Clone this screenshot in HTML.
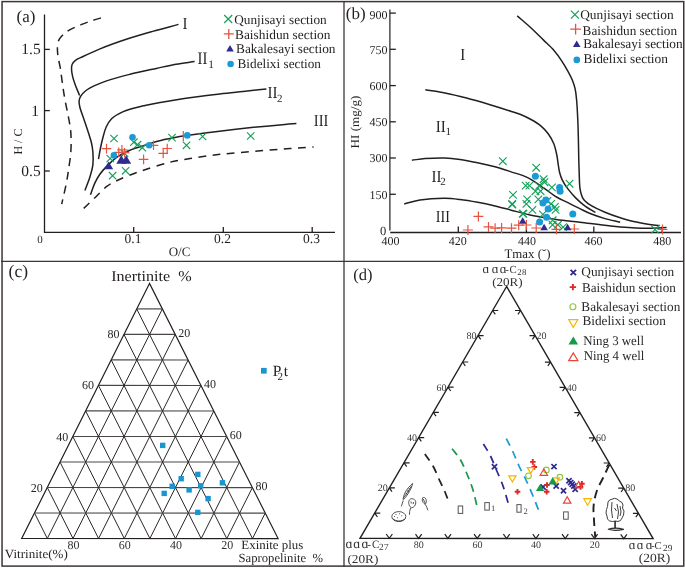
<!DOCTYPE html>
<html><head><meta charset="utf-8"><style>
html,body{margin:0;padding:0;background:#fff;}
svg{display:block;will-change:transform;}
text{font-family:"Liberation Serif",serif;text-rendering:geometricPrecision;-webkit-font-smoothing:antialiased;}
</style></head><body>
<svg width="685" height="568" viewBox="0 0 685 568">
<rect width="685" height="568" fill="#fff"/>
<rect x="2.05" y="1.6" width="681.7" height="564.5" fill="none" stroke="#3d3536" stroke-width="1.5"/>
<line x1="344" y1="1" x2="344" y2="567" stroke="#3d3536" stroke-width="1.3" />
<line x1="1" y1="261.3" x2="684" y2="261.3" stroke="#3d3536" stroke-width="1.3" />
<text x="16.6" y="22.0" font-family="Liberation Serif" font-size="17" text-anchor="start" fill="#231f20" >(a)</text>
<line x1="44.5" y1="14.5" x2="44.5" y2="233.05" stroke="#231f20" stroke-width="1.3" />
<line x1="44.5" y1="232.4" x2="335" y2="232.4" stroke="#231f20" stroke-width="1.3" />
<line x1="44.5" y1="49.4" x2="49.8" y2="49.4" stroke="#231f20" stroke-width="1.3" />
<line x1="44.5" y1="110.6" x2="49.8" y2="110.6" stroke="#231f20" stroke-width="1.3" />
<line x1="44.5" y1="171.0" x2="49.8" y2="171.0" stroke="#231f20" stroke-width="1.3" />
<line x1="133.7" y1="227" x2="133.7" y2="232.4" stroke="#231f20" stroke-width="1.3" />
<line x1="223.3" y1="227" x2="223.3" y2="232.4" stroke="#231f20" stroke-width="1.3" />
<line x1="312.2" y1="227" x2="312.2" y2="232.4" stroke="#231f20" stroke-width="1.3" />
<text x="40.7" y="54.4" font-family="Liberation Serif" font-size="15.5" text-anchor="end" fill="#231f20" >1.5</text>
<text x="39.0" y="115.6" font-family="Liberation Serif" font-size="15.5" text-anchor="end" fill="#231f20" >1</text>
<text x="40.7" y="176" font-family="Liberation Serif" font-size="15.5" text-anchor="end" fill="#231f20" >0.5</text>
<text x="40" y="242.8" font-family="Liberation Serif" font-size="11" text-anchor="middle" fill="#231f20" >0</text>
<text x="133" y="243.2" font-family="Liberation Serif" font-size="13.5" text-anchor="middle" fill="#231f20" >0.1</text>
<text x="222.5" y="243.2" font-family="Liberation Serif" font-size="13.5" text-anchor="middle" fill="#231f20" >0.2</text>
<text x="311.5" y="243.2" font-family="Liberation Serif" font-size="13.5" text-anchor="middle" fill="#231f20" >0.3</text>
<text x="179.5" y="255.6" font-family="Liberation Serif" font-size="13" text-anchor="middle" fill="#231f20" >O/C</text>
<text x="0" y="0" font-family="Liberation Serif" font-size="12" text-anchor="middle" fill="#231f20" transform="translate(22,141.6) rotate(-90)">H / C</text>
<path d="M178.5,24.4 C169.87,26.73 161.25,28.93 152.60,31.40 C143.85,33.90 135.02,36.40 126.30,39.30 C117.49,42.23 107.82,45.71 100.00,48.90 C93.52,51.54 87.00,54.66 82.50,56.80 C79.62,58.17 77.30,58.89 75.50,60.30 C74.05,61.44 72.86,62.77 72.20,64.20 C71.59,65.52 71.52,66.83 71.50,68.50 C71.48,70.83 72.05,74.12 72.70,76.90 C73.37,79.75 74.42,82.46 75.50,85.40 C76.69,88.64 78.23,92.13 79.60,95.50" fill="none" stroke="#231f20" stroke-width="1.5" stroke-linecap="butt"/>
<path d="M194.6,61.6 C188.40,62.47 182.27,63.09 176.00,64.20 C169.51,65.34 163.34,66.86 156.30,68.40 C148.16,70.18 138.09,72.29 130.00,74.30 C122.99,76.04 116.56,77.63 110.50,79.60 C105.05,81.37 99.66,83.30 95.20,85.40 C91.49,87.15 87.96,88.92 85.40,91.00 C83.35,92.66 81.66,94.58 80.60,96.40 C79.75,97.86 79.28,99.22 79.10,100.80 C78.90,102.56 79.22,104.26 79.70,106.50 C80.44,109.93 82.47,114.88 83.90,119.20 C85.40,123.71 87.16,128.76 88.50,133.00 C89.64,136.59 90.76,139.70 91.50,143.00 C92.20,146.13 92.65,148.97 92.90,152.30 C93.18,156.10 93.39,160.52 92.90,164.60 C92.40,168.75 91.18,172.82 89.90,177.00 C88.54,181.44 86.57,186.00 84.90,190.50" fill="none" stroke="#231f20" stroke-width="1.5" stroke-linecap="butt"/>
<path d="M266.4,88.9 C258.60,89.73 250.78,90.56 243.00,91.40 C235.25,92.23 228.65,92.84 219.80,93.90 C207.94,95.32 191.27,97.34 178.20,99.40 C166.46,101.25 154.83,103.17 144.90,105.50 C136.70,107.43 128.68,109.24 122.70,111.90 C118.20,113.90 114.44,116.02 111.60,118.80 C109.11,121.23 107.55,124.11 106.10,127.20 C104.57,130.48 103.75,134.45 102.80,138.00 C101.90,141.38 101.20,144.57 100.50,148.00 C99.76,151.59 99.17,155.40 98.50,159.10" fill="none" stroke="#231f20" stroke-width="1.5" stroke-linecap="butt"/>
<path d="M296.4,123.6 C292.60,123.87 290.16,123.97 285.00,124.40 C274.04,125.32 250.43,127.50 233.70,129.40 C217.62,131.22 199.28,133.50 186.50,135.50 C177.70,136.88 171.41,137.92 164.30,139.60 C157.57,141.19 150.99,143.29 144.90,145.20 C139.40,146.93 134.11,148.39 129.30,150.50 C124.87,152.44 120.75,154.58 117.00,157.20 C113.37,159.74 110.07,162.90 107.10,165.90 C104.35,168.68 101.80,171.53 99.70,174.50 C97.74,177.28 96.27,179.95 94.80,183.10 C93.16,186.64 91.93,190.90 90.50,194.80" fill="none" stroke="#231f20" stroke-width="1.5" stroke-linecap="butt"/>
<path d="M101.0,17.9 C97.67,18.93 94.26,19.90 91.00,21.00 C87.83,22.07 85.09,22.98 81.70,24.40 C77.45,26.18 71.07,28.88 67.60,31.10 C65.29,32.57 63.77,34.01 62.30,35.50 C61.06,36.75 59.96,37.94 59.20,39.30 C58.49,40.58 58.10,41.99 57.80,43.40 C57.50,44.82 57.42,46.11 57.40,47.80 C57.37,50.07 57.52,52.87 57.90,55.80 C58.37,59.45 59.57,63.65 60.30,68.00 C61.13,72.96 61.72,78.67 62.50,84.00 C63.28,89.34 64.04,94.65 65.00,100.00 C65.97,105.42 67.34,111.09 68.30,116.30 C69.18,121.06 70.14,125.78 70.60,130.00 C70.99,133.58 71.05,136.49 71.10,140.00 C71.15,143.91 71.13,148.04 70.80,152.40 C70.43,157.31 69.53,162.91 68.80,168.00 C68.09,172.90 67.50,177.13 66.50,182.40 C65.26,188.91 63.30,196.87 61.70,204.10" fill="none" stroke="#231f20" stroke-width="1.5" stroke-linecap="butt" stroke-dasharray="8 6"/>
<path d="M83.7,208.4 C87.80,204.50 92.00,200.49 96.00,196.70 C99.79,193.10 103.21,189.05 107.10,186.20 C110.65,183.60 113.80,182.09 118.20,180.00 C124.17,177.17 132.10,174.17 140.00,171.40 C149.15,168.20 160.95,164.42 170.00,162.20 C177.28,160.42 183.50,159.59 190.00,158.50 C196.15,157.47 202.60,156.54 208.00,155.80 C212.40,155.20 215.49,154.78 220.00,154.30 C225.82,153.68 232.66,153.14 240.00,152.50 C248.99,151.72 261.01,150.69 270.00,150.00 C277.34,149.44 283.06,149.08 290.00,148.60 C297.54,148.08 305.73,147.53 313.60,147.00" fill="none" stroke="#231f20" stroke-width="1.5" stroke-linecap="butt" stroke-dasharray="7.8 6.5"/>
<text x="182.5" y="28.5" font-family="Liberation Serif" font-size="17" text-anchor="start" fill="#231f20" textLength="5" lengthAdjust="spacingAndGlyphs" >I</text>
<text x="197.6" y="64.2" font-family="Liberation Serif" font-size="17.5" text-anchor="start" fill="#231f20" textLength="9.8" lengthAdjust="spacingAndGlyphs" >II</text>
<text x="208.2" y="67.7" font-family="Liberation Serif" font-size="11.5" text-anchor="start" fill="#231f20" >1</text>
<text x="267.5" y="97.8" font-family="Liberation Serif" font-size="17" text-anchor="start" fill="#231f20" textLength="10" lengthAdjust="spacingAndGlyphs" >II</text>
<text x="277" y="101.5" font-family="Liberation Serif" font-size="11" text-anchor="start" fill="#231f20" >2</text>
<text x="313.8" y="126.1" font-family="Liberation Serif" font-size="17" text-anchor="start" fill="#231f20" textLength="14.5" lengthAdjust="spacingAndGlyphs" >III</text>
<path d="M224.2,15.0L232.2,23.0M224.2,23.0L232.2,15.0" stroke="#12a058" stroke-width="1.2" fill="none"/>
<text x="234.2" y="23.8" font-family="Liberation Serif" font-size="13.2" text-anchor="start" fill="#231f20" textLength="92.5" lengthAdjust="spacingAndGlyphs" >Qunjisayi section</text>
<path d="M223.8,33.9H233.8M228.8,28.9V38.9" stroke="#e4543f" stroke-width="1.3" fill="none"/>
<text x="235" y="38.7" font-family="Liberation Serif" font-size="13.2" text-anchor="start" fill="#231f20" textLength="95.5" lengthAdjust="spacingAndGlyphs" >Baishidun section</text>
<polygon points="230.0,44.9 226.2,51.4 233.8,51.4" fill="#2f2b8f"/>
<text x="236" y="53.4" font-family="Liberation Serif" font-size="13.2" text-anchor="start" fill="#231f20" textLength="99.5" lengthAdjust="spacingAndGlyphs" >Bakalesayi section</text>
<circle cx="230.6" cy="64" r="3.3" fill="#1a9ad6"/>
<text x="237.5" y="68.2" font-family="Liberation Serif" font-size="13.2" text-anchor="start" fill="#231f20" textLength="83.5" lengthAdjust="spacingAndGlyphs" >Bidelixi section</text>
<path d="M110.3,134.8L117.7,142.2M110.3,142.2L117.7,134.8" stroke="#12a058" stroke-width="1.1" fill="none"/>
<path d="M130.1,138.5L137.5,145.9M130.1,145.9L137.5,138.5" stroke="#12a058" stroke-width="1.1" fill="none"/>
<path d="M133.8,141.0L141.2,148.4M133.8,148.4L141.2,141.0" stroke="#12a058" stroke-width="1.1" fill="none"/>
<path d="M138.7,144.0L146.1,151.4M138.7,151.4L146.1,144.0" stroke="#12a058" stroke-width="1.1" fill="none"/>
<path d="M120.8,149.6L128.2,157.0M120.8,157.0L128.2,149.6" stroke="#12a058" stroke-width="1.1" fill="none"/>
<path d="M106.5,154.8L113.9,162.2M106.5,162.2L113.9,154.8" stroke="#12a058" stroke-width="1.1" fill="none"/>
<path d="M121.9,167.1L129.3,174.5M121.9,174.5L129.3,167.1" stroke="#12a058" stroke-width="1.1" fill="none"/>
<path d="M108.9,172.0L116.3,179.4M108.9,179.4L116.3,172.0" stroke="#12a058" stroke-width="1.1" fill="none"/>
<path d="M168.3,133.9L175.7,141.3M168.3,141.3L175.7,133.9" stroke="#12a058" stroke-width="1.1" fill="none"/>
<path d="M182.8,141.6L190.2,149.0M182.8,149.0L190.2,141.6" stroke="#12a058" stroke-width="1.1" fill="none"/>
<path d="M198.9,132.8L206.3,140.2M198.9,140.2L206.3,132.8" stroke="#12a058" stroke-width="1.1" fill="none"/>
<path d="M247.0,132.3L254.4,139.7M247.0,139.7L254.4,132.3" stroke="#12a058" stroke-width="1.1" fill="none"/>
<path d="M101.7,148.6H111.3M106.5,143.8V153.4" stroke="#e4543f" stroke-width="1.2" fill="none"/>
<path d="M114.0,152.3H123.6M118.8,147.5V157.1" stroke="#e4543f" stroke-width="1.2" fill="none"/>
<path d="M117.1,149.9H126.7M121.9,145.1V154.7" stroke="#e4543f" stroke-width="1.2" fill="none"/>
<path d="M119.7,152.7H129.3M124.5,147.9V157.5" stroke="#e4543f" stroke-width="1.2" fill="none"/>
<path d="M148.7,145.3H158.3M153.5,140.5V150.1" stroke="#e4543f" stroke-width="1.2" fill="none"/>
<path d="M138.8,159.4H148.4M143.6,154.6V164.2" stroke="#e4543f" stroke-width="1.2" fill="none"/>
<path d="M158.4,153.4H168.0M163.2,148.6V158.2" stroke="#e4543f" stroke-width="1.2" fill="none"/>
<path d="M162.4,148.5H172.0M167.2,143.7V153.3" stroke="#e4543f" stroke-width="1.2" fill="none"/>
<line x1="183.3" y1="130.9" x2="183.3" y2="141.3" stroke="#e4543f" stroke-width="1.2" />
<circle cx="132.5" cy="137.3" r="3.3" fill="#1a9ad6"/>
<circle cx="113.9" cy="155.4" r="3.3" fill="#1a9ad6"/>
<circle cx="149.2" cy="145.3" r="3.3" fill="#1a9ad6"/>
<circle cx="187.3" cy="135.4" r="3.3" fill="#1a9ad6"/>
<polygon points="108.6,161.5 104.0,169.3 113.2,169.3" fill="#2f2b8f"/>
<polygon points="121.3,155.2 116.3,163.7 126.3,163.7" fill="#2f2b8f"/>
<polygon points="126.2,155.2 121.2,163.7 131.2,163.7" fill="#2f2b8f"/>
<text x="345.8" y="18.7" font-family="Liberation Serif" font-size="17" text-anchor="start" fill="#231f20" >(b)</text>
<line x1="389.9" y1="9.5" x2="389.9" y2="230.6" stroke="#231f20" stroke-width="1.2" />
<line x1="390.2" y1="232.5" x2="681" y2="232.5" stroke="#231f20" stroke-width="1.3" />
<line x1="390" y1="13.1" x2="395.8" y2="13.1" stroke="#231f20" stroke-width="1.3" />
<text x="387.5" y="19.0" font-family="Liberation Serif" font-size="12" text-anchor="end" fill="#231f20" >900</text>
<line x1="390" y1="49.3" x2="395.8" y2="49.3" stroke="#231f20" stroke-width="1.3" />
<text x="387.5" y="53.599999999999994" font-family="Liberation Serif" font-size="12" text-anchor="end" fill="#231f20" >750</text>
<line x1="390" y1="85.6" x2="395.8" y2="85.6" stroke="#231f20" stroke-width="1.3" />
<text x="387.5" y="89.89999999999999" font-family="Liberation Serif" font-size="12" text-anchor="end" fill="#231f20" >600</text>
<line x1="390" y1="121.8" x2="395.8" y2="121.8" stroke="#231f20" stroke-width="1.3" />
<text x="387.5" y="126.1" font-family="Liberation Serif" font-size="12" text-anchor="end" fill="#231f20" >450</text>
<line x1="390" y1="158.0" x2="395.8" y2="158.0" stroke="#231f20" stroke-width="1.3" />
<text x="387.5" y="162.3" font-family="Liberation Serif" font-size="12" text-anchor="end" fill="#231f20" >300</text>
<line x1="390" y1="194.3" x2="395.8" y2="194.3" stroke="#231f20" stroke-width="1.3" />
<text x="387.5" y="198.60000000000002" font-family="Liberation Serif" font-size="12" text-anchor="end" fill="#231f20" >150</text>
<text x="386.2" y="234.9" font-family="Liberation Serif" font-size="12.5" text-anchor="end" fill="#231f20" >0</text>
<line x1="458.3" y1="226.5" x2="458.3" y2="232.5" stroke="#231f20" stroke-width="1.3" />
<line x1="526.4" y1="226.5" x2="526.4" y2="232.5" stroke="#231f20" stroke-width="1.3" />
<line x1="593.8" y1="226.5" x2="593.8" y2="232.5" stroke="#231f20" stroke-width="1.3" />
<line x1="662.2" y1="226.5" x2="662.2" y2="232.5" stroke="#231f20" stroke-width="1.3" />
<text x="390.6" y="245" font-family="Liberation Serif" font-size="12" text-anchor="middle" fill="#231f20" >400</text>
<text x="457.8" y="245" font-family="Liberation Serif" font-size="12" text-anchor="middle" fill="#231f20" >420</text>
<text x="527" y="245" font-family="Liberation Serif" font-size="12" text-anchor="middle" fill="#231f20" >440</text>
<text x="593.6" y="245" font-family="Liberation Serif" font-size="12" text-anchor="middle" fill="#231f20" >460</text>
<text x="662.2" y="245" font-family="Liberation Serif" font-size="12" text-anchor="middle" fill="#231f20" >480</text>
<text x="527.5" y="257.9" font-family="Liberation Serif" font-size="13" text-anchor="middle" fill="#231f20" textLength="46" lengthAdjust="spacingAndGlyphs" >Tmax (˘)</text>
<text x="0" y="0" font-family="Liberation Serif" font-size="12" text-anchor="middle" fill="#231f20" transform="translate(359.3,122) rotate(-90)" textLength="53" lengthAdjust="spacingAndGlyphs">HI (mg/g)</text>
<path d="M517.2,15.9 C521.47,19.60 525.75,23.10 530.00,27.00 C534.45,31.08 539.12,35.80 543.30,39.90 C547.07,43.60 550.82,46.82 554.00,50.50 C557.01,53.97 559.60,57.68 562.00,61.30 C564.27,64.72 566.29,68.26 568.10,71.60 C569.75,74.64 571.30,77.50 572.50,80.50 C573.65,83.37 574.53,86.11 575.20,89.20 C575.94,92.58 576.21,95.83 576.60,100.00 C577.14,105.68 577.50,113.50 577.80,120.20 C578.10,126.83 578.23,133.33 578.40,140.00 C578.57,146.80 578.64,154.61 578.80,160.60 C578.92,165.23 579.03,168.60 579.20,172.90 C579.39,177.63 579.41,183.92 579.90,187.80 C580.22,190.33 580.65,192.17 581.20,194.00 C581.66,195.53 582.10,196.86 582.80,198.10 C583.48,199.29 584.35,200.35 585.30,201.30 C586.25,202.25 587.15,202.89 588.50,203.80 C590.53,205.17 593.76,207.00 596.50,208.40 C599.26,209.80 601.84,210.91 605.00,212.20 C608.85,213.77 613.44,215.49 618.00,217.00 C622.94,218.64 628.47,220.38 633.60,221.60 C638.46,222.75 643.44,223.52 648.00,224.20 C652.09,224.81 655.80,225.13 659.70,225.60" fill="none" stroke="#231f20" stroke-width="1.5" stroke-linecap="butt"/>
<path d="M425.3,89.8 C431.87,90.87 438.31,91.67 445.00,93.00 C452.06,94.40 459.28,96.19 466.60,98.10 C474.27,100.10 482.52,102.57 490.00,104.80 C496.94,106.87 504.48,109.23 510.00,111.00 C513.91,112.25 516.63,112.95 520.00,114.30 C523.62,115.75 527.48,117.53 531.00,119.50 C534.51,121.46 538.16,123.61 541.10,126.10 C543.84,128.42 546.12,130.94 548.20,133.80 C550.37,136.78 552.37,140.19 553.80,143.70 C555.25,147.25 556.04,151.33 556.80,155.00 C557.51,158.42 557.80,161.91 558.30,165.00 C558.73,167.68 558.95,170.04 559.60,172.50 C560.25,174.98 560.99,177.30 562.20,179.80 C563.62,182.74 565.71,185.94 567.90,188.90 C570.24,192.05 573.03,195.23 575.90,198.10 C578.77,200.97 581.84,203.71 585.10,206.10 C588.34,208.48 591.97,210.30 595.40,212.40" fill="none" stroke="#231f20" stroke-width="1.5" stroke-linecap="butt"/>
<path d="M411.9,160.2 C416.27,159.67 420.18,158.97 425.00,158.60 C430.89,158.15 438.55,157.79 444.70,158.00 C450.13,158.18 454.74,158.75 460.00,159.50 C465.68,160.31 471.76,161.58 477.60,162.80 C483.43,164.02 489.40,165.29 495.00,166.80 C500.32,168.24 505.10,169.85 510.40,171.60 C516.13,173.49 523.01,175.25 528.20,177.80 C532.69,180.01 536.91,183.44 540.00,185.50 C542.03,186.85 543.00,187.51 545.00,188.90 C548.05,191.01 552.59,194.66 556.50,197.00 C560.23,199.23 564.09,200.80 567.90,202.70 C571.72,204.60 575.57,206.54 579.40,208.40 C583.20,210.24 586.74,212.16 590.80,213.80 C595.23,215.59 600.15,217.21 605.00,218.60 C609.95,220.02 615.13,221.00 620.20,222.20" fill="none" stroke="#231f20" stroke-width="1.5" stroke-linecap="butt"/>
<path d="M404.2,204.0 C409.47,202.67 414.10,200.94 420.00,200.00 C427.27,198.84 437.45,198.27 444.70,198.30 C450.41,198.33 454.73,198.88 460.00,199.50 C465.67,200.17 471.76,201.22 477.60,202.30 C483.43,203.38 489.39,204.69 495.00,206.00 C500.30,207.23 504.96,208.50 510.40,209.90 C516.54,211.48 522.95,213.50 530.00,215.00 C538.09,216.73 547.75,218.18 556.30,219.40 C564.39,220.55 571.59,221.18 580.00,222.20 C589.57,223.36 600.46,224.98 610.70,226.00 C620.90,227.01 631.58,228.07 641.30,228.30 C650.13,228.51 658.17,227.83 666.60,227.60" fill="none" stroke="#231f20" stroke-width="1.5" stroke-linecap="butt"/>
<text x="460.3" y="59.8" font-family="Liberation Serif" font-size="17" text-anchor="start" fill="#231f20" textLength="5" lengthAdjust="spacingAndGlyphs" >I</text>
<text x="435.8" y="131.8" font-family="Liberation Serif" font-size="17" text-anchor="start" fill="#231f20" textLength="10" lengthAdjust="spacingAndGlyphs" >II</text>
<text x="445.5" y="135" font-family="Liberation Serif" font-size="11" text-anchor="start" fill="#231f20" >1</text>
<text x="431.4" y="181.5" font-family="Liberation Serif" font-size="17" text-anchor="start" fill="#231f20" textLength="10" lengthAdjust="spacingAndGlyphs" >II</text>
<text x="440.3" y="184.7" font-family="Liberation Serif" font-size="11" text-anchor="start" fill="#231f20" >2</text>
<text x="435.8" y="222" font-family="Liberation Serif" font-size="17" text-anchor="start" fill="#231f20" textLength="14" lengthAdjust="spacingAndGlyphs" >III</text>
<path d="M570.9,10.6L578.9,18.6M570.9,18.6L578.9,10.6" stroke="#12a058" stroke-width="1.2" fill="none"/>
<text x="580.2" y="18.8" font-family="Liberation Serif" font-size="13.2" text-anchor="start" fill="#231f20" textLength="93.5" lengthAdjust="spacingAndGlyphs" >Qunjisayi section</text>
<path d="M570.2,29.2H581.0M575.6,23.8V34.6" stroke="#e4543f" stroke-width="1.3" fill="none"/>
<text x="582.6" y="34.7" font-family="Liberation Serif" font-size="13.2" text-anchor="start" fill="#231f20" textLength="94.5" lengthAdjust="spacingAndGlyphs" >Baishidun section</text>
<polygon points="576.7,40.5 572.9,47.0 580.5,47.0" fill="#2f2b8f"/>
<text x="583.2" y="48.4" font-family="Liberation Serif" font-size="13.2" text-anchor="start" fill="#231f20" textLength="99.5" lengthAdjust="spacingAndGlyphs" >Bakalesayi section</text>
<circle cx="576.8" cy="59.9" r="3.3" fill="#1a9ad6"/>
<text x="583.5" y="63.3" font-family="Liberation Serif" font-size="13.2" text-anchor="start" fill="#231f20" textLength="84.5" lengthAdjust="spacingAndGlyphs" >Bidelixi section</text>
<path d="M499.0,157.4L506.6,165.0M499.0,165.0L506.6,157.4" stroke="#12a058" stroke-width="1.1" fill="none"/>
<path d="M532.4,163.9L540.0,171.5M532.4,171.5L540.0,163.9" stroke="#12a058" stroke-width="1.1" fill="none"/>
<path d="M521.9,181.8L529.5,189.4M521.9,189.4L529.5,181.8" stroke="#12a058" stroke-width="1.1" fill="none"/>
<path d="M525.6,181.8L533.2,189.4M525.6,189.4L533.2,181.8" stroke="#12a058" stroke-width="1.1" fill="none"/>
<path d="M539.8,175.4L547.4,183.0M539.8,183.0L547.4,175.4" stroke="#12a058" stroke-width="1.1" fill="none"/>
<path d="M540.6,178.4L548.2,186.0M540.6,186.0L548.2,178.4" stroke="#12a058" stroke-width="1.1" fill="none"/>
<path d="M535.3,182.1L542.9,189.7M535.3,189.7L542.9,182.1" stroke="#12a058" stroke-width="1.1" fill="none"/>
<path d="M548.1,183.6L555.7,191.2M548.1,191.2L555.7,183.6" stroke="#12a058" stroke-width="1.1" fill="none"/>
<path d="M565.7,179.9L573.3,187.5M565.7,187.5L573.3,179.9" stroke="#12a058" stroke-width="1.1" fill="none"/>
<path d="M531.6,187.4L539.2,195.0M531.6,195.0L539.2,187.4" stroke="#12a058" stroke-width="1.1" fill="none"/>
<path d="M536.8,187.4L544.4,195.0M536.8,195.0L544.4,187.4" stroke="#12a058" stroke-width="1.1" fill="none"/>
<path d="M509.2,191.1L516.8,198.7M509.2,198.7L516.8,191.1" stroke="#12a058" stroke-width="1.1" fill="none"/>
<path d="M508.4,200.1L516.0,207.7M508.4,207.7L516.0,200.1" stroke="#12a058" stroke-width="1.1" fill="none"/>
<path d="M523.4,195.6L531.0,203.2M523.4,203.2L531.0,195.6" stroke="#12a058" stroke-width="1.1" fill="none"/>
<path d="M522.6,200.1L530.2,207.7M522.6,207.7L530.2,200.1" stroke="#12a058" stroke-width="1.1" fill="none"/>
<path d="M534.6,195.6L542.2,203.2M534.6,203.2L542.2,195.6" stroke="#12a058" stroke-width="1.1" fill="none"/>
<path d="M543.6,197.1L551.2,204.7M543.6,204.7L551.2,197.1" stroke="#12a058" stroke-width="1.1" fill="none"/>
<path d="M528.6,206.1L536.2,213.7M528.6,213.7L536.2,206.1" stroke="#12a058" stroke-width="1.1" fill="none"/>
<path d="M547.3,200.1L554.9,207.7M547.3,207.7L554.9,200.1" stroke="#12a058" stroke-width="1.1" fill="none"/>
<path d="M551.1,203.1L558.7,210.7M551.1,210.7L558.7,203.1" stroke="#12a058" stroke-width="1.1" fill="none"/>
<path d="M551.8,206.1L559.4,213.7M551.8,213.7L559.4,206.1" stroke="#12a058" stroke-width="1.1" fill="none"/>
<path d="M518.9,209.8L526.5,217.4M518.9,217.4L526.5,209.8" stroke="#12a058" stroke-width="1.1" fill="none"/>
<path d="M539.1,210.6L546.7,218.2M539.1,218.2L546.7,210.6" stroke="#12a058" stroke-width="1.1" fill="none"/>
<path d="M548.8,216.5L556.4,224.1M548.8,224.1L556.4,216.5" stroke="#12a058" stroke-width="1.1" fill="none"/>
<path d="M548.8,221.0L556.4,228.6M548.8,228.6L556.4,221.0" stroke="#12a058" stroke-width="1.1" fill="none"/>
<path d="M554.1,221.0L561.7,228.6M554.1,228.6L561.7,221.0" stroke="#12a058" stroke-width="1.1" fill="none"/>
<path d="M559.3,223.3L566.9,230.9M559.3,230.9L566.9,223.3" stroke="#12a058" stroke-width="1.1" fill="none"/>
<path d="M508.4,200.8L516.0,208.4M508.4,208.4L516.0,200.8" stroke="#12a058" stroke-width="1.1" fill="none"/>
<path d="M519.5,210.0L527.1,217.6M519.5,217.6L527.1,210.0" stroke="#12a058" stroke-width="1.1" fill="none"/>
<path d="M651.2,225.7L658.8,233.3M651.2,233.3L658.8,225.7" stroke="#12a058" stroke-width="1.1" fill="none"/>
<path d="M473.4,216.4H483.4M478.4,211.4V221.4" stroke="#e4543f" stroke-width="1.2" fill="none"/>
<path d="M462.9,230.0H472.9M467.9,225.0V235.0" stroke="#e4543f" stroke-width="1.2" fill="none"/>
<path d="M483.5,226.9H493.5M488.5,221.9V231.9" stroke="#e4543f" stroke-width="1.2" fill="none"/>
<path d="M490.1,228.2H500.1M495.1,223.2V233.2" stroke="#e4543f" stroke-width="1.2" fill="none"/>
<path d="M496.6,227.9H506.6M501.6,222.9V232.9" stroke="#e4543f" stroke-width="1.2" fill="none"/>
<path d="M506.5,228.2H516.5M511.5,223.2V233.2" stroke="#e4543f" stroke-width="1.2" fill="none"/>
<path d="M513.7,225.2H523.7M518.7,220.2V230.2" stroke="#e4543f" stroke-width="1.2" fill="none"/>
<path d="M521.4,225.0H531.4M526.4,220.0V230.0" stroke="#e4543f" stroke-width="1.2" fill="none"/>
<path d="M531.2,228.0H541.2M536.2,223.0V233.0" stroke="#e4543f" stroke-width="1.2" fill="none"/>
<path d="M551.4,229.3H561.4M556.4,224.3V234.3" stroke="#e4543f" stroke-width="1.2" fill="none"/>
<path d="M569.3,229.0H579.3M574.3,224.0V234.0" stroke="#e4543f" stroke-width="1.2" fill="none"/>
<path d="M657.5,229.5H667.5M662.5,224.5V234.5" stroke="#e4543f" stroke-width="1.2" fill="none"/>
<circle cx="535.4" cy="176.2" r="3.5" fill="#1a9ad6"/>
<circle cx="559.6" cy="187.4" r="3.5" fill="#1a9ad6"/>
<circle cx="560.1" cy="191.2" r="3.5" fill="#1a9ad6"/>
<circle cx="545.9" cy="200.1" r="3.5" fill="#1a9ad6"/>
<circle cx="542.9" cy="203.1" r="3.5" fill="#1a9ad6"/>
<circle cx="548.1" cy="209.1" r="3.5" fill="#1a9ad6"/>
<circle cx="546.6" cy="217.3" r="3.5" fill="#1a9ad6"/>
<circle cx="539.6" cy="222.1" r="3.5" fill="#1a9ad6"/>
<circle cx="572.8" cy="214" r="3.5" fill="#1a9ad6"/>
<polygon points="522.7,217.3 518.9,223.8 526.5,223.8" fill="#2f2b8f"/>
<polygon points="544.1,223.7 540.3,230.2 547.9,230.2" fill="#2f2b8f"/>
<polygon points="567.6,223.7 563.8,230.2 571.4,230.2" fill="#2f2b8f"/>
<text x="8.6" y="277.0" font-family="Liberation Serif" font-size="17.5" text-anchor="start" fill="#231f20" >(c)</text>
<text x="111.2" y="280.7" font-family="Liberation Serif" font-size="15" text-anchor="start" fill="#231f20" textLength="80.5" lengthAdjust="spacingAndGlyphs" xml:space="preserve">Inertinite  %</text>
<polygon points="149.5,283.4 21.7,538.5 278.1,538.6" fill="none" stroke="#231f20" stroke-width="1.2" stroke-linejoin="miter"/>
<line x1="136.7" y1="308.9" x2="162.4" y2="308.9" stroke="#4a4646" stroke-width="1.2" />
<line x1="34.5" y1="513.0" x2="47.3" y2="538.5" stroke="#2a2626" stroke-width="1.0" />
<line x1="265.2" y1="513.1" x2="252.5" y2="538.6" stroke="#2a2626" stroke-width="1.0" />
<line x1="123.9" y1="334.4" x2="175.2" y2="334.4" stroke="#4a4646" stroke-width="1.2" />
<line x1="47.3" y1="487.5" x2="73.0" y2="538.5" stroke="#2a2626" stroke-width="1.0" />
<line x1="252.4" y1="487.6" x2="226.8" y2="538.6" stroke="#2a2626" stroke-width="1.0" />
<line x1="111.2" y1="359.9" x2="188.1" y2="360.0" stroke="#4a4646" stroke-width="1.2" />
<line x1="60.0" y1="462.0" x2="98.6" y2="538.5" stroke="#2a2626" stroke-width="1.0" />
<line x1="239.5" y1="462.0" x2="201.2" y2="538.6" stroke="#2a2626" stroke-width="1.0" />
<line x1="98.4" y1="385.4" x2="200.9" y2="385.5" stroke="#4a4646" stroke-width="1.2" />
<line x1="72.8" y1="436.5" x2="124.3" y2="538.5" stroke="#2a2626" stroke-width="1.0" />
<line x1="226.7" y1="436.5" x2="175.5" y2="538.6" stroke="#2a2626" stroke-width="1.0" />
<line x1="85.6" y1="410.9" x2="213.8" y2="411.0" stroke="#4a4646" stroke-width="1.2" />
<line x1="85.6" y1="410.9" x2="149.9" y2="538.5" stroke="#2a2626" stroke-width="1.0" />
<line x1="213.8" y1="411.0" x2="149.9" y2="538.5" stroke="#2a2626" stroke-width="1.0" />
<line x1="72.8" y1="436.5" x2="226.7" y2="436.5" stroke="#4a4646" stroke-width="1.2" />
<line x1="98.4" y1="385.4" x2="175.5" y2="538.6" stroke="#2a2626" stroke-width="1.0" />
<line x1="200.9" y1="385.5" x2="124.3" y2="538.5" stroke="#2a2626" stroke-width="1.0" />
<line x1="60.0" y1="462.0" x2="239.5" y2="462.0" stroke="#4a4646" stroke-width="1.2" />
<line x1="111.2" y1="359.9" x2="201.2" y2="538.6" stroke="#2a2626" stroke-width="1.0" />
<line x1="188.1" y1="360.0" x2="98.6" y2="538.5" stroke="#2a2626" stroke-width="1.0" />
<line x1="47.3" y1="487.5" x2="252.4" y2="487.6" stroke="#4a4646" stroke-width="1.2" />
<line x1="123.9" y1="334.4" x2="226.8" y2="538.6" stroke="#2a2626" stroke-width="1.0" />
<line x1="175.2" y1="334.4" x2="73.0" y2="538.5" stroke="#2a2626" stroke-width="1.0" />
<line x1="34.5" y1="513.0" x2="265.2" y2="513.1" stroke="#4a4646" stroke-width="1.2" />
<line x1="136.7" y1="308.9" x2="252.5" y2="538.6" stroke="#2a2626" stroke-width="1.0" />
<line x1="162.4" y1="308.9" x2="47.3" y2="538.5" stroke="#2a2626" stroke-width="1.0" />
<text x="119.4" y="338.4" font-family="Liberation Serif" font-size="12" text-anchor="end" fill="#262626" >80</text>
<text x="93.9" y="389.4" font-family="Liberation Serif" font-size="12" text-anchor="end" fill="#262626" >60</text>
<text x="68.3" y="440.5" font-family="Liberation Serif" font-size="12" text-anchor="end" fill="#262626" >40</text>
<text x="42.8" y="491.5" font-family="Liberation Serif" font-size="12" text-anchor="end" fill="#262626" >20</text>
<text x="178.2" y="337.0" font-family="Liberation Serif" font-size="12" text-anchor="start" fill="#262626" >20</text>
<text x="203.9" y="388.1" font-family="Liberation Serif" font-size="12" text-anchor="start" fill="#262626" >40</text>
<text x="229.7" y="439.1" font-family="Liberation Serif" font-size="12" text-anchor="start" fill="#262626" >60</text>
<text x="255.4" y="490.2" font-family="Liberation Serif" font-size="12" text-anchor="start" fill="#262626" >80</text>
<text x="73.5" y="548.5" font-family="Liberation Serif" font-size="12" text-anchor="middle" fill="#333" >80</text>
<text x="124.8" y="548.5" font-family="Liberation Serif" font-size="12" text-anchor="middle" fill="#333" >60</text>
<text x="176.0" y="548.5" font-family="Liberation Serif" font-size="12" text-anchor="middle" fill="#333" >40</text>
<text x="227.3" y="548.5" font-family="Liberation Serif" font-size="12" text-anchor="middle" fill="#333" >20</text>
<text x="4.8" y="558.4" font-family="Liberation Serif" font-size="12.5" text-anchor="start" fill="#231f20" textLength="63" lengthAdjust="spacingAndGlyphs" >Vitrinite(%)</text>
<text x="241.3" y="548.8" font-family="Liberation Serif" font-size="12.5" text-anchor="start" fill="#231f20" textLength="62" lengthAdjust="spacingAndGlyphs" >Exinite plus</text>
<text x="238.5" y="561.5" font-family="Liberation Serif" font-size="12.5" text-anchor="start" fill="#231f20" textLength="84.5" lengthAdjust="spacingAndGlyphs" xml:space="preserve">Sapropelinite  %</text>
<rect x="160.0" y="442.7" width="5.4" height="5.4" fill="#1a95cf"/>
<rect x="195.1" y="471.7" width="5.4" height="5.4" fill="#1a95cf"/>
<rect x="178.5" y="476.0" width="5.4" height="5.4" fill="#1a95cf"/>
<rect x="219.7" y="480.1" width="5.4" height="5.4" fill="#1a95cf"/>
<rect x="169.5" y="483.6" width="5.4" height="5.4" fill="#1a95cf"/>
<rect x="198.0" y="483.1" width="5.4" height="5.4" fill="#1a95cf"/>
<rect x="186.4" y="487.2" width="5.4" height="5.4" fill="#1a95cf"/>
<rect x="161.5" y="490.7" width="5.4" height="5.4" fill="#1a95cf"/>
<rect x="205.4" y="495.9" width="5.4" height="5.4" fill="#1a95cf"/>
<rect x="195.1" y="509.7" width="5.4" height="5.4" fill="#1a95cf"/>
<rect x="261.0" y="367.9" width="5.7" height="5.7" fill="#1a95cf"/>
<text x="272.8" y="376.1" font-family="Liberation Serif" font-size="15.5" text-anchor="start" fill="#231f20" >P</text>
<text x="277.6" y="379.8" font-family="Liberation Serif" font-size="11" text-anchor="start" fill="#231f20" >2</text>
<text x="283.8" y="376.1" font-family="Liberation Serif" font-size="15.5" text-anchor="start" fill="#231f20" >t</text>
<text x="353.2" y="280" font-family="Liberation Serif" font-size="16.5" text-anchor="start" fill="#231f20" >(d)</text>
<polygon points="506.6,286.5 360,538.3 653.1,538.6" fill="none" stroke="#231f20" stroke-width="1.4"/>
<path d="M374.7,513.1h5.6M374.7,513.1l2.7,3.8" stroke="#231f20" stroke-width="1.2" fill="none"/>
<path d="M638.5,513.4h-5.6M638.5,513.4l-2.7,3.8" stroke="#231f20" stroke-width="1.2" fill="none"/>
<path d="M386.2,534.0L389.3,538.3L392.4,534.0" stroke="#231f20" stroke-width="1.2" fill="none"/>
<path d="M389.3,487.9h5.6M389.3,487.9l2.7,3.8" stroke="#231f20" stroke-width="1.2" fill="none"/>
<path d="M623.8,488.2h-5.6M623.8,488.2l-2.7,3.8" stroke="#231f20" stroke-width="1.2" fill="none"/>
<path d="M415.5,534.1L418.6,538.4L421.7,534.1" stroke="#231f20" stroke-width="1.2" fill="none"/>
<path d="M404.0,462.8h5.6M404.0,462.8l2.7,3.8" stroke="#231f20" stroke-width="1.2" fill="none"/>
<path d="M609.2,463.0h-5.6M609.2,463.0l-2.7,3.8" stroke="#231f20" stroke-width="1.2" fill="none"/>
<path d="M444.8,534.1L447.9,538.4L451.0,534.1" stroke="#231f20" stroke-width="1.2" fill="none"/>
<path d="M418.6,437.6h5.6M418.6,437.6l2.7,3.8" stroke="#231f20" stroke-width="1.2" fill="none"/>
<path d="M594.5,437.8h-5.6M594.5,437.8l-2.7,3.8" stroke="#231f20" stroke-width="1.2" fill="none"/>
<path d="M474.1,534.1L477.2,538.4L480.3,534.1" stroke="#231f20" stroke-width="1.2" fill="none"/>
<path d="M433.3,412.4h5.6M433.3,412.4l2.7,3.8" stroke="#231f20" stroke-width="1.2" fill="none"/>
<path d="M579.9,412.6h-5.6M579.9,412.6l-2.7,3.8" stroke="#231f20" stroke-width="1.2" fill="none"/>
<path d="M503.4,534.2L506.6,538.5L509.7,534.2" stroke="#231f20" stroke-width="1.2" fill="none"/>
<path d="M448.0,387.2h5.6M448.0,387.2l2.7,3.8" stroke="#231f20" stroke-width="1.2" fill="none"/>
<path d="M565.2,387.3h-5.6M565.2,387.3l-2.7,3.8" stroke="#231f20" stroke-width="1.2" fill="none"/>
<path d="M532.8,534.2L535.9,538.5L539.0,534.2" stroke="#231f20" stroke-width="1.2" fill="none"/>
<path d="M462.6,362.0h5.6M462.6,362.0l2.7,3.8" stroke="#231f20" stroke-width="1.2" fill="none"/>
<path d="M550.5,362.1h-5.6M550.5,362.1l-2.7,3.8" stroke="#231f20" stroke-width="1.2" fill="none"/>
<path d="M562.1,534.2L565.2,538.5L568.3,534.2" stroke="#231f20" stroke-width="1.2" fill="none"/>
<path d="M478.0,335.6h5.6M478.0,335.6l2.7,3.8" stroke="#231f20" stroke-width="1.2" fill="none"/>
<path d="M535.1,335.6h-5.6M535.1,335.6l-2.7,3.8" stroke="#231f20" stroke-width="1.2" fill="none"/>
<path d="M591.4,534.2L594.5,538.5L597.6,534.2" stroke="#231f20" stroke-width="1.2" fill="none"/>
<path d="M492.6,310.5h5.6M492.6,310.5l2.7,3.8" stroke="#231f20" stroke-width="1.2" fill="none"/>
<path d="M520.6,310.5h-5.6M520.6,310.5l-2.7,3.8" stroke="#231f20" stroke-width="1.2" fill="none"/>
<path d="M620.7,534.3L623.8,538.6L626.9,534.3" stroke="#231f20" stroke-width="1.2" fill="none"/>
<text x="387.8" y="491.4" font-family="Liberation Serif" font-size="10" text-anchor="end" fill="#3a3a3a" >20</text>
<text x="417.1" y="441.1" font-family="Liberation Serif" font-size="10" text-anchor="end" fill="#3a3a3a" >40</text>
<text x="446.5" y="390.7" font-family="Liberation Serif" font-size="10" text-anchor="end" fill="#3a3a3a" >60</text>
<text x="476.5" y="339.1" font-family="Liberation Serif" font-size="10" text-anchor="end" fill="#3a3a3a" >80</text>
<text x="625.3" y="491.4" font-family="Liberation Serif" font-size="10" text-anchor="start" fill="#3a3a3a" >80</text>
<text x="596.0" y="441.0" font-family="Liberation Serif" font-size="10" text-anchor="start" fill="#3a3a3a" >60</text>
<text x="566.7" y="390.5" font-family="Liberation Serif" font-size="10" text-anchor="start" fill="#3a3a3a" >40</text>
<text x="536.6" y="338.8" font-family="Liberation Serif" font-size="10" text-anchor="start" fill="#3a3a3a" >20</text>
<text x="418.8" y="547.8" font-family="Liberation Serif" font-size="10" text-anchor="middle" fill="#3a3a3a" >80</text>
<text x="477.4" y="547.8" font-family="Liberation Serif" font-size="10" text-anchor="middle" fill="#3a3a3a" >60</text>
<text x="536.1" y="547.8" font-family="Liberation Serif" font-size="10" text-anchor="middle" fill="#3a3a3a" >40</text>
<text x="594.7" y="547.8" font-family="Liberation Serif" font-size="10" text-anchor="middle" fill="#3a3a3a" >20</text>
<text font-family="Liberation Serif" fill="#333"><tspan x="482.6" y="272.6" font-size="13">ɑ</tspan><tspan x="491.7" y="272.6" font-size="13">ɑ</tspan><tspan x="499.7" y="272.6" font-size="13">ɑ</tspan><tspan x="505.2" y="272.6" font-size="10.8">-</tspan><tspan x="509.5" y="272.6" font-size="10.8">C</tspan><tspan x="517.3 522.0" y="275.1" font-size="8.8">28</tspan></text>
<text font-family="Liberation Serif" fill="#333"><tspan x="345.4" y="548" font-size="13.5">ɑ</tspan><tspan x="353.2" y="548" font-size="13.5">ɑ</tspan><tspan x="361.5" y="548" font-size="13.5">ɑ</tspan><tspan x="367.3" y="548" font-size="11.2">-</tspan><tspan x="372.1" y="548" font-size="11.2">C</tspan><tspan x="379.0 384.1" y="550.4" font-size="9.3">27</tspan></text>
<text font-family="Liberation Serif" fill="#333"><tspan x="628.7" y="549" font-size="13">ɑ</tspan><tspan x="636.7" y="549" font-size="13">ɑ</tspan><tspan x="645.8" y="549" font-size="13">ɑ</tspan><tspan x="651.2" y="549" font-size="10.5">-</tspan><tspan x="654.5" y="549" font-size="10.5">C</tspan><tspan x="662.9 667.7" y="550.8" font-size="9.3">29</tspan></text>
<text x="492.2" y="285.5" font-family="Liberation Serif" font-size="12" text-anchor="start" fill="#333" textLength="30.5" lengthAdjust="spacingAndGlyphs" >(20R)</text>
<text x="347.4" y="562.8" font-family="Liberation Serif" font-size="12" text-anchor="start" fill="#333" textLength="31" lengthAdjust="spacingAndGlyphs" >(20R)</text>
<text x="638.7" y="562.2" font-family="Liberation Serif" font-size="12.5" text-anchor="start" fill="#333" textLength="31.5" lengthAdjust="spacingAndGlyphs" >(20R)</text>
<path d="M424.9,454.1 C427.60,458.07 430.57,461.69 433.00,466.00 C435.61,470.63 437.76,476.48 439.90,481.10 C441.72,485.03 443.51,488.46 445.00,492.00 C446.37,495.25 447.40,498.33 448.60,501.50" fill="none" stroke="#231f20" stroke-width="1.75" stroke-linecap="butt" stroke-dasharray="8 6"/>
<path d="M452.1,448.8 C454.90,452.53 458.03,455.85 460.50,460.00 C463.19,464.51 465.30,469.96 467.40,475.00 C469.46,479.96 471.39,484.74 473.00,490.00 C474.72,495.61 475.87,501.80 477.30,507.70" fill="none" stroke="#1a9a4a" stroke-width="1.75" stroke-linecap="butt" stroke-dasharray="8 5.5"/>
<path d="M483.4,444.0 C485.60,447.67 487.97,451.04 490.00,455.00 C492.21,459.32 493.96,464.17 496.00,469.00 C498.18,474.15 500.69,479.41 502.70,485.00 C504.82,490.91 506.43,497.40 508.30,503.60" fill="none" stroke="#2c2a8c" stroke-width="1.75" stroke-linecap="butt" stroke-dasharray="8 6"/>
<path d="M506.3,438.6 C508.53,443.07 510.89,447.45 513.00,452.00 C515.13,456.58 516.85,461.36 519.00,466.00 C521.18,470.70 523.73,475.15 526.00,480.00 C528.40,485.13 530.72,490.50 533.00,496.00 C535.39,501.75 537.67,507.87 540.00,513.80" fill="none" stroke="#1a9ad6" stroke-width="1.75" stroke-linecap="butt" stroke-dasharray="8 6"/>
<path d="M609.3,464.8 C607.20,469.20 605.09,473.62 603.00,478.00 C600.92,482.35 598.36,486.41 596.80,491.00 C595.19,495.73 594.05,501.06 593.60,506.00 C593.17,510.72 593.76,515.11 594.00,520.00 C594.27,525.39 594.80,531.33 595.20,537.00" fill="none" stroke="#231f20" stroke-width="1.9" stroke-linecap="butt" stroke-dasharray="8.5 5.5"/>
<rect x="458.2" y="506" width="4.5" height="7.4" fill="none" stroke="#555" stroke-width="1"/>
<rect x="484.8" y="502.6" width="4.5" height="7.5" fill="none" stroke="#555" stroke-width="1"/>
<rect x="516.9" y="504.6" width="4.2" height="7.6" fill="none" stroke="#555" stroke-width="1"/>
<rect x="563.6" y="511.9" width="4.6" height="7.3" fill="none" stroke="#555" stroke-width="1"/>
<text x="491" y="511" font-family="Liberation Serif" font-size="8.5" text-anchor="start" fill="#444" >1</text>
<text x="523.5" y="514" font-family="Liberation Serif" font-size="8.5" text-anchor="start" fill="#444" >2</text>
<g fill="none" stroke="#2a2a2a" stroke-width="0.8" stroke-linejoin="round"><path d="M401.3,506.4 L403.2,500.5"/><path d="M403,499.5 C403.5,495 405.5,491 408.5,487.5 C410,486 411.5,484.5 412.7,483.5 C412,486 411.3,488 410.5,489.5 C409,492.5 407,495.5 404.3,498.8 Z"/><path d="M404,497.5 L411.5,486 M405.5,493 L407.5,494.5 M407,490.5 L409,492 M408.6,488.3 L410.3,489.5"/><path d="M409.8,506.5 C408.5,504 408,500.5 410.5,499 C412.5,498 415.5,499.5 415.8,502 C416,505 414,507.5 411.5,507.8 Z"/><path d="M411,501.5 L411.3,503.5 M413.5,502 L413.2,504"/><path d="M410.6,508 C409.8,510 409.4,512.5 409.4,514.8"/><path d="M422.6,497.8 C423.5,497 425.5,497.5 426,499.5 C426.8,501.5 426,503.5 425.2,504.3 C423.5,503.5 422.3,501.5 422.2,499.8 Z"/><path d="M423.2,499 L425.3,503.5"/><path d="M425.4,504.5 C426.5,506.5 427.5,508.5 427.9,510.4"/><ellipse cx="398.8" cy="516.6" rx="7" ry="5"/><path d="M392.5,518.5 C396,521.8 402,521.8 405.5,518.5"/></g>
<circle cx="396" cy="514.5" r="0.5" fill="#333"/>
<circle cx="399.5" cy="513.8" r="0.5" fill="#333"/>
<circle cx="401.8" cy="515.8" r="0.5" fill="#333"/>
<circle cx="397.5" cy="517.8" r="0.5" fill="#333"/>
<circle cx="394.5" cy="516.5" r="0.5" fill="#333"/>
<g fill="none" stroke="#2a2a2a" stroke-width="0.9" stroke-linejoin="round"><path d="M611,499.5 L614.5,498.3 L617,499 L619.5,501 L622,502.5 L623,505 L622.5,508 L624,511 L623.5,515 L622,518 L620.5,520.5 L618,521.5 L615.5,521 L612.5,521.5 L609.5,521 L607.5,519 L607,516 L606,513 L606.5,509.5 L607.5,506.5 L608,502 L609.5,500 Z"/><path d="M612,502 L611.5,510 L612.5,518 M617,504 L618.5,512 L617.5,519 M620,506 L621,512 L620,516 M614.5,508 L616.5,511"/><path d="M615.1,521 V528.3" stroke-width="1.6"/><path d="M608.3,529.3 C612,528 619,528 623.5,529.3 C619,530.5 612,530.5 608.3,529.3 Z" stroke-width="1.2"/></g>
<path d="M570.6,269.8L576.0,275.2M570.6,275.2L576.0,269.8" stroke="#2d2a8f" stroke-width="1.8" fill="none"/>
<text x="581.3" y="276.3" font-family="Liberation Serif" font-size="13.2" text-anchor="start" fill="#2a2a2a" textLength="93" lengthAdjust="spacingAndGlyphs" >Qunjisayi section</text>
<path d="M569.7,287.1H576.1M572.9,283.9V290.3" stroke="#e02626" stroke-width="1.9" fill="none"/>
<text x="581.9" y="291.5" font-family="Liberation Serif" font-size="13.2" text-anchor="start" fill="#2a2a2a" textLength="94" lengthAdjust="spacingAndGlyphs" >Baishidun section</text>
<circle cx="572.9" cy="306.7" r="3" fill="none" stroke="#8cc63f" stroke-width="1.1"/>
<text x="581.3" y="310.5" font-family="Liberation Serif" font-size="13.2" text-anchor="start" fill="#2a2a2a" textLength="99" lengthAdjust="spacingAndGlyphs" >Bakalesayi section</text>
<polygon points="573.3,327.4 568.8,319.7 577.8,319.7" fill="none" stroke="#f7b500" stroke-width="1.2"/>
<text x="582.5" y="325.2" font-family="Liberation Serif" font-size="13.2" text-anchor="start" fill="#2a2a2a" textLength="83.3" lengthAdjust="spacingAndGlyphs" >Bidelixi section</text>
<polygon points="573.3,336.4 568.5,344.6 578.1,344.6" fill="#159a4a"/>
<text x="583.2" y="344.8" font-family="Liberation Serif" font-size="13.2" text-anchor="start" fill="#2a2a2a" textLength="60.8" lengthAdjust="spacingAndGlyphs" >Ning 3 well</text>
<polygon points="573.3,352.9 568.7,360.7 577.9,360.7" fill="none" stroke="#e5473a" stroke-width="1.2"/>
<text x="583.8" y="360.0" font-family="Liberation Serif" font-size="13.2" text-anchor="start" fill="#2a2a2a" textLength="60.5" lengthAdjust="spacingAndGlyphs" >Ning 4 well</text>
<path d="M491.9,464.2L497.1,469.4M491.9,469.4L497.1,464.2" stroke="#2d2a8f" stroke-width="1.7" fill="none"/>
<path d="M551.4,464.0L556.6,469.2M551.4,469.2L556.6,464.0" stroke="#2d2a8f" stroke-width="1.7" fill="none"/>
<path d="M553.6,483.4L558.8,488.6M553.6,488.6L558.8,483.4" stroke="#2d2a8f" stroke-width="1.7" fill="none"/>
<path d="M540.5,484.4L545.7,489.6M540.5,489.6L545.7,484.4" stroke="#2d2a8f" stroke-width="1.7" fill="none"/>
<path d="M560.9,488.2L566.1,493.4M560.9,493.4L566.1,488.2" stroke="#2d2a8f" stroke-width="1.7" fill="none"/>
<path d="M566.4,478.2L571.6,483.4M566.4,483.4L571.6,478.2" stroke="#2d2a8f" stroke-width="1.7" fill="none"/>
<path d="M568.1,480.0L573.3,485.2M568.1,485.2L573.3,480.0" stroke="#2d2a8f" stroke-width="1.7" fill="none"/>
<path d="M569.6,481.7L574.8,486.9M569.6,486.9L574.8,481.7" stroke="#2d2a8f" stroke-width="1.7" fill="none"/>
<path d="M571.2,483.4L576.4,488.6M571.2,488.6L576.4,483.4" stroke="#2d2a8f" stroke-width="1.7" fill="none"/>
<path d="M572.6,486.7L577.8,491.9M572.6,491.9L577.8,486.7" stroke="#2d2a8f" stroke-width="1.7" fill="none"/>
<path d="M530.0,461.9H535.6M532.8,459.1V464.7" stroke="#e02626" stroke-width="1.9" fill="none"/>
<path d="M531.5,467.0H537.1M534.3,464.2V469.8" stroke="#e02626" stroke-width="1.9" fill="none"/>
<path d="M544.2,485.0H549.8M547.0,482.2V487.8" stroke="#e02626" stroke-width="1.9" fill="none"/>
<path d="M543.9,491.8H549.5M546.7,489.0V494.6" stroke="#e02626" stroke-width="1.9" fill="none"/>
<path d="M514.7,491.8H520.3M517.5,489.0V494.6" stroke="#e02626" stroke-width="1.9" fill="none"/>
<path d="M579.1,483.7H584.7M581.9,480.9V486.5" stroke="#e02626" stroke-width="1.9" fill="none"/>
<path d="M577.7,487.0H583.3M580.5,484.2V489.8" stroke="#e02626" stroke-width="1.9" fill="none"/>
<circle cx="528.5" cy="475.8" r="2.8" fill="none" stroke="#8cc63f" stroke-width="1.1"/>
<circle cx="546.4" cy="469.9" r="2.8" fill="none" stroke="#8cc63f" stroke-width="1.1"/>
<circle cx="559.9" cy="477.2" r="2.8" fill="none" stroke="#8cc63f" stroke-width="1.1"/>
<polygon points="512.4,482.0 508.8,475.9 516.0,475.9" fill="none" stroke="#f7b500" stroke-width="1.2"/>
<polygon points="530.7,473.4 527.3,467.6 534.1,467.6" fill="none" stroke="#f7b500" stroke-width="1.2"/>
<polygon points="556.2,483.6 552.8,477.8 559.6,477.8" fill="none" stroke="#f7b500" stroke-width="1.2"/>
<polygon points="587.6,505.2 583.8,498.7 591.4,498.7" fill="none" stroke="#f7b500" stroke-width="1.2"/>
<polygon points="552.6,477.3 548.4,484.5 556.8,484.5" fill="#159a4a"/>
<polygon points="540.1,483.9 535.9,491.1 544.3,491.1" fill="#159a4a"/>
<polygon points="543.8,469.0 540.1,475.3 547.5,475.3" fill="none" stroke="#e5473a" stroke-width="1.2"/>
<polygon points="567.2,496.8 563.5,503.1 570.9,503.1" fill="none" stroke="#e5473a" stroke-width="1.2"/>
<polygon points="578.7,481.5 575.0,487.8 582.4,487.8" fill="none" stroke="#e5473a" stroke-width="1.2"/>
</svg>
</body></html>
